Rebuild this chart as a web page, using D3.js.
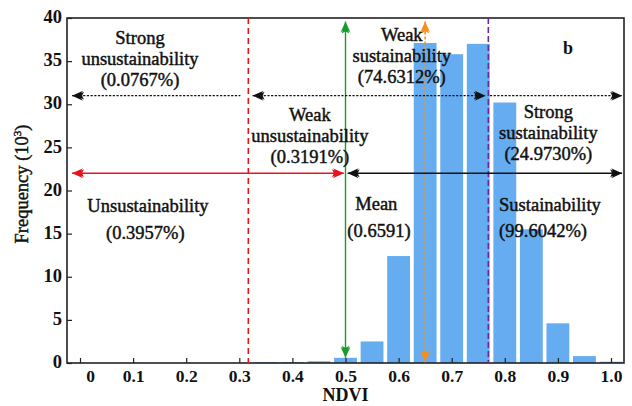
<!DOCTYPE html>
<html>
<head>
<meta charset="utf-8">
<script src="https://cdn.jsdelivr.net/npm/d3@7"></script>
<style>
  html, body { margin: 0; padding: 0; background: #fff; }
  svg { display: block; }
  text { font-family: "Liberation Serif", "Times New Roman", serif; fill: #111; }
</style>
</head>
<body>
<svg id="chart" width="632" height="406"></svg>
<script>
// ---- data ----
const binCenters = [0.35, 0.40, 0.45, 0.50, 0.55, 0.60, 0.65, 0.70, 0.75, 0.80, 0.85, 0.90, 0.95, 1.00];
const frequency  = [0.1, 0.1, 0.2, 0.6, 2.5, 12.4, 37.1, 35.8, 37.0, 30.2, 15.5, 4.6, 0.8, 0.15];
const xTicks = [0, 0.1, 0.2, 0.3, 0.4, 0.5, 0.6, 0.7, 0.8, 0.9, 1.0];
const xTickLabels = ["0", "0.1", "0.2", "0.3", "0.4", "0.5", "0.6", "0.7", "0.8", "0.9", "1.0"];
const yTicks = [0, 5, 10, 15, 20, 25, 30, 35, 40];
const thresholdWeak = 0.317;      // red dashed
const thresholdMid = 0.5;         // green
const meanLine = 0.65;            // orange
const thresholdStrong = 0.769;    // purple
const dottedLevel = 31;
const solidLevel = 22;

const labels = [
  { lines: ["Strong", "unsustainability", "(0.0767%)"], x: 0.113, y: 37.0 },
  { lines: ["Weak", "unsustainability", "(0.3191%)"], x: 0.433, y: 28.1 },
  { lines: ["Weak", "sustainability", "(74.6312%)"], x: 0.606, y: 37.3 },
  { lines: ["Strong", "sustainability", "(24.9730%)"], x: 0.882, y: 28.4 },
  { lines: ["Unsustainability"], x: 0.128, y: 17.5 },
  { lines: ["(0.3957%)"], x: 0.123, y: 14.4 },
  { lines: ["Mean"], x: 0.558, y: 17.7 },
  { lines: ["(0.6591)"], x: 0.563, y: 14.6 },
  { lines: ["Sustainability"], x: 0.885, y: 17.6 },
  { lines: ["(99.6042%)"], x: 0.872, y: 14.6 }
];

// ---- layout ----
const svg = d3.select("#chart");
const L = 67, R = 624, T = 18, B = 363;
const x = d3.scaleLinear().domain([-0.0245, 1.0245]).range([L, R]);
const y = d3.scaleLinear().domain([0, 40]).range([B, T]);

// defs: arrow markers
const defs = svg.append("defs");
function marker(id, color) {
  defs.append("marker")
    .attr("id", id)
    .attr("viewBox", "-12 -6 14 12")
    .attr("refX", 0).attr("refY", 0)
    .attr("markerWidth", 14).attr("markerHeight", 12)
    .attr("markerUnits", "userSpaceOnUse")
    .attr("orient", "auto-start-reverse")
    .append("path")
    .attr("d", "M0,0 L-11,-5 L-7,0 L-11,5 Z M-4,0 L-12,-4 L-10,0 L-12,4 Z")
    .attr("fill", color);
}
marker("arBlack", "#111");
marker("arRed", "#e8141c");
marker("arGreen", "#1a9a2a");
marker("arOrange", "#f5901e");

// bars
const halfW = 0.0215;
svg.append("g").selectAll("rect").data(binCenters).join("rect")
  .attr("x", (d) => x(d - halfW))
  .attr("width", (d) => x(d + halfW) - x(d - halfW))
  .attr("y", (d, i) => y(frequency[i]))
  .attr("height", (d, i) => y(0) - y(frequency[i]))
  .attr("fill", "#66acf1");

// frame
svg.append("rect").attr("x", L).attr("y", T).attr("width", R - L).attr("height", B - T)
  .attr("fill", "none").attr("stroke", "#222").attr("stroke-width", 1.6);

// axes
const xAxis = d3.axisBottom(x).tickValues(xTicks).tickSize(-5).tickPadding(7)
  .tickFormat((d, i) => xTickLabels[i]);
const gx = svg.append("g").attr("transform", `translate(0,${B})`).call(xAxis);
gx.select(".domain").remove();
gx.selectAll(".tick line").attr("stroke", "#222").attr("stroke-width", 1.2);
gx.selectAll(".tick text").attr("font-family", "Liberation Serif").attr("font-size", 17.5)
  .attr("font-weight", "bold").attr("fill", "#111")
  .attr("dx", (d, i) => (i === 0 ? 10 : 0));

const yAxis = d3.axisLeft(y).tickValues(yTicks).tickSize(-5).tickPadding(5);
const gy = svg.append("g").attr("transform", `translate(${L},0)`).call(yAxis);
gy.select(".domain").remove();
gy.selectAll(".tick line").attr("stroke", "#222").attr("stroke-width", 1.2);
gy.selectAll(".tick text").attr("font-family", "Liberation Serif").attr("font-size", 18.5)
  .attr("font-weight", "bold").attr("fill", "#111").attr("dy", "0.25em");

// axis titles
svg.append("text").attr("x", x(0.5)).attr("y", 401).attr("text-anchor", "middle")
  .attr("font-size", 18).attr("font-weight", "bold").text("NDVI");
const yl = svg.append("text").attr("transform", `translate(28,${184}) rotate(-90)`)
  .attr("text-anchor", "middle").attr("font-size", 18.5)
  .attr("stroke", "#111").attr("stroke-width", 0.45);
yl.append("tspan").text("Frequency (10");
yl.append("tspan").attr("font-size", 11).attr("dy", -7).text("3");
yl.append("tspan").attr("dy", 7).text(")");

// vertical lines
svg.append("line").attr("x1", x(thresholdWeak)).attr("x2", x(thresholdWeak))
  .attr("y1", T).attr("y2", B).attr("stroke", "#e8141c").attr("stroke-width", 1.6)
  .attr("stroke-dasharray", "6,4");
svg.append("line").attr("x1", x(thresholdStrong)).attr("x2", x(thresholdStrong))
  .attr("y1", T).attr("y2", B).attr("stroke", "#6a2a9a").attr("stroke-width", 1.6)
  .attr("stroke-dasharray", "6,3");
svg.append("line").attr("x1", x(thresholdMid)).attr("x2", x(thresholdMid))
  .attr("y1", y(39.6)).attr("y2", y(0.6)).attr("stroke", "#1a9a2a").attr("stroke-width", 1.4)
  .attr("marker-start", "url(#arGreen)").attr("marker-end", "url(#arGreen)");
svg.append("line").attr("x1", x(meanLine)).attr("x2", x(meanLine))
  .attr("y1", y(39.6)).attr("y2", y(0.1)).attr("stroke", "#f5901e").attr("stroke-width", 1.6)
  .attr("stroke-dasharray", "3,2")
  .attr("marker-start", "url(#arOrange)").attr("marker-end", "url(#arOrange)");

// horizontal arrows
function hArrow(x1, x2, lvl, color, mk, dash, startArrow, endArrow) {
  const l = svg.append("line").attr("x1", x(x1)).attr("x2", x(x2))
    .attr("y1", y(lvl)).attr("y2", y(lvl)).attr("stroke", color).attr("stroke-width", 1.3);
  if (dash) l.attr("stroke-dasharray", dash);
  if (startArrow) l.attr("marker-start", `url(#${mk})`);
  if (endArrow) l.attr("marker-end", `url(#${mk})`);
}
hArrow(-0.015, 0.302, dottedLevel, "#111", "arBlack", "2.2,1.5", true, false);
hArrow(0.325, 0.764, dottedLevel, "#111", "arBlack", "2.2,1.5", true, true);
hArrow(0.772, 1.021, dottedLevel, "#111", "arBlack", "2.2,1.5", false, true);
hArrow(-0.015, 0.497, solidLevel, "#e8141c", "arRed", null, true, true);
hArrow(0.504, 1.021, solidLevel, "#111", "arBlack", null, true, true);

// annotation labels
labels.forEach((lab) => {
  const t = svg.append("text").attr("x", x(lab.x)).attr("y", y(lab.y))
    .attr("text-anchor", "middle").attr("font-size", 18.5)
    .attr("stroke", "#111").attr("stroke-width", 0.45);
  lab.lines.forEach((ln, i) => {
    t.append("tspan").attr("x", x(lab.x)).attr("dy", i === 0 ? 0 : 21).text(ln);
  });
});

svg.append("text").attr("x", 568).attr("y", 54).attr("text-anchor", "middle")
  .attr("font-size", 18).attr("font-weight", "bold").text("b");
</script>
</body>
</html>
